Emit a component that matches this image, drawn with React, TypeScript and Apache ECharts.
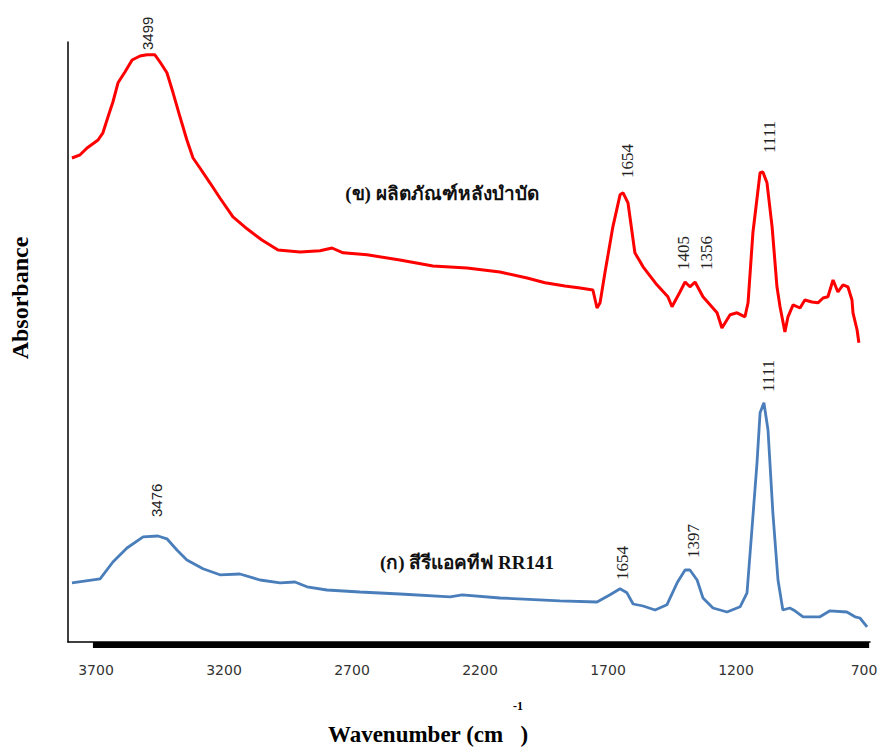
import React, { useEffect, useRef } from "react";
import * as echarts from "echarts";

// (ข) treated product – red spectrum
const redWavenumber = [3794, 3762, 3735, 3692, 3673, 3653, 3634, 3614, 3587, 3559, 3528, 3501, 3470, 3450, 3423, 3399, 3372, 3345, 3321, 3294, 3255, 3216, 3165, 3110, 3052, 2989, 2903, 2825, 2778, 2735, 2641, 2513, 2384, 2251, 2122, 2016, 1946, 1868, 1809, 1759, 1743, 1731, 1712, 1681, 1653, 1641, 1622, 1595, 1563, 1509, 1466, 1450, 1419, 1399, 1380, 1360, 1329, 1274, 1255, 1223, 1196, 1165, 1153, 1134, 1106, 1095, 1079, 1059, 1040, 1028, 1009, 997, 977, 950, 931, 903, 880, 860, 841, 821, 802, 782, 763, 747, 743, 727, 720];
const redAbsorbance = [1.21, 1.218, 1.235, 1.255, 1.273, 1.313, 1.35, 1.398, 1.425, 1.455, 1.465, 1.468, 1.468, 1.45, 1.423, 1.373, 1.313, 1.255, 1.21, 1.185, 1.148, 1.11, 1.063, 1.033, 1.005, 0.98, 0.975, 0.978, 0.985, 0.973, 0.968, 0.955, 0.94, 0.935, 0.925, 0.91, 0.898, 0.89, 0.885, 0.88, 0.835, 0.848, 0.923, 1.038, 1.118, 1.123, 1.098, 0.973, 0.938, 0.893, 0.863, 0.838, 0.875, 0.9, 0.888, 0.9, 0.863, 0.823, 0.785, 0.818, 0.823, 0.813, 0.848, 1.023, 1.173, 1.175, 1.148, 1.038, 0.888, 0.838, 0.775, 0.813, 0.843, 0.835, 0.855, 0.85, 0.848, 0.86, 0.863, 0.905, 0.875, 0.893, 0.888, 0.855, 0.823, 0.78, 0.748];

// (ก) reactive dye RR141 – blue spectrum
const blueWavenumber = [3794, 3684, 3634, 3579, 3516, 3458, 3423, 3384, 3345, 3282, 3216, 3138, 3059, 2981, 2923, 2876, 2798, 2669, 2513, 2317, 2270, 2122, 1888, 1743, 1692, 1653, 1626, 1602, 1563, 1516, 1470, 1430, 1399, 1380, 1352, 1329, 1290, 1235, 1184, 1157, 1138, 1118, 1106, 1091, 1075, 1056, 1036, 1017, 990, 970, 938, 872, 833, 767, 735, 716, 688];
const blueAbsorbance = [0.148, 0.158, 0.2, 0.235, 0.263, 0.265, 0.258, 0.23, 0.205, 0.183, 0.168, 0.17, 0.155, 0.148, 0.15, 0.138, 0.13, 0.125, 0.12, 0.113, 0.118, 0.11, 0.103, 0.1, 0.118, 0.133, 0.123, 0.095, 0.09, 0.08, 0.093, 0.148, 0.18, 0.18, 0.155, 0.11, 0.085, 0.075, 0.088, 0.123, 0.28, 0.448, 0.573, 0.598, 0.53, 0.323, 0.155, 0.08, 0.085, 0.078, 0.063, 0.063, 0.078, 0.075, 0.063, 0.06, 0.038];

const xTickLabels = [3700, 3200, 2700, 2200, 1700, 1200, 700];

// peak annotations: text, wavenumber of label, absorbance where label starts
const peakText = ["3499", "1654", "1405", "1356", "1111", "3476", "1654", "1397", "1111"];
const peakWavenumber = [3497, 1624, 1407, 1317, 1071, 3462, 1645, 1368, 1075];
const peakAbsorbance = [1.48, 1.16, 0.93, 0.93, 1.2225, 0.3125, 0.155, 0.21, 0.625];
const peakSans = [true, false, false, false, false, true, false, false, false];

const redName = "(ข) ผลิตภัณฑ์หลังบำบัด";
const blueName = "(ก) สีรีแอคทีฟ RR141";

const SERIF = "'Liberation Serif', 'Times New Roman', 'DejaVu Serif', serif";
const SANS = "'Liberation Sans', Arial, 'DejaVu Sans', sans-serif";

export default function App() {
  const ref = useRef<HTMLDivElement>(null);
  useEffect(() => {
    if (!ref.current) return;
    const chart = echarts.init(ref.current, undefined, { renderer: "svg" });
    const redData = redWavenumber.map((w, i) => [w, redAbsorbance[i]]);
    const blueData = blueWavenumber.map((w, i) => [w, blueAbsorbance[i]]);
    const option: any = {
      animation: false,
      backgroundColor: "#ffffff",
      grid: { left: 68, right: 13, top: 42, bottom: 106, containLabel: false },
      xAxis: {
        type: "value",
        min: 676.6,
        max: 3809.4,
        inverse: true,
        axisLine: { show: true, lineStyle: { color: "#000", width: 1.5 } },
        axisTick: { show: false },
        splitLine: { show: false },
        axisLabel: {
          customValues: xTickLabels,
          formatter: (v: number) => String(v),
          margin: 21,
          color: "#333",
          fontFamily: "'DejaVu Sans', sans-serif",
          fontSize: 14,
        },
      },
      yAxis: {
        type: "value",
        min: 0,
        max: 1.5,
        axisLine: { show: true, lineStyle: { color: "#000", width: 1.5 } },
        axisTick: { show: false },
        axisLabel: { show: false },
        splitLine: { show: false },
      },
      series: [
        {
          type: "line",
          name: redName,
          data: redData,
          showSymbol: false,
          symbol: "none",
          lineStyle: { color: "#ff0000", width: 3 },
          clip: false,
        },
        {
          type: "line",
          name: blueName,
          data: blueData,
          showSymbol: false,
          symbol: "none",
          lineStyle: { color: "#4a7ebb", width: 2.8 },
          clip: false,
        },
      ],
    };
    chart.setOption(option);

    const toPx = (w: number, a: number) => chart.convertToPixel({ gridIndex: 0 }, [w, a]) as number[];
    const graphics: any[] = [];
    const barStart = toPx(3712, 0);
    const barEnd = toPx(680, 0);
    graphics.push({
      type: "rect",
      shape: { x: barStart[0], y: barStart[1], width: barEnd[0] - barStart[0], height: 6 },
      style: { fill: "#000" },
    });
    peakText.forEach((t, i) => {
      const p = toPx(peakWavenumber[i], peakAbsorbance[i]);
      graphics.push({
        type: "text",
        x: p[0],
        y: p[1],
        rotation: Math.PI / 2,
        style: {
          text: t,
          fontFamily: peakSans[i] ? SANS : SERIF,
          fontSize: peakSans[i] ? 15 : 17,
          fill: "#222",
          align: "left",
          verticalAlign: "middle",
        },
      });
    });
    graphics.push(
      {
        type: "text",
        x: 442,
        y: 193,
        style: { text: redName, fontFamily: SERIF, fontWeight: "bold", fontSize: 19, fill: "#111", align: "center", verticalAlign: "middle" },
      },
      {
        type: "text",
        x: 467,
        y: 562,
        style: { text: blueName, fontFamily: SERIF, fontWeight: "bold", fontSize: 19, fill: "#111", align: "center", verticalAlign: "middle" },
      },
      {
        type: "text",
        x: 20,
        y: 298,
        rotation: Math.PI / 2,
        style: { text: "Absorbance", fontFamily: SERIF, fontWeight: "bold", fontSize: 24, fill: "#000", align: "center", verticalAlign: "middle" },
      },
      {
        type: "text",
        x: 428,
        y: 734,
        style: { text: "Wavenumber (cm   )", fontFamily: SERIF, fontWeight: "bold", fontSize: 23, fill: "#000", align: "center", verticalAlign: "middle" },
      },
      {
        type: "text",
        x: 518,
        y: 706,
        style: { text: "-1", fontFamily: SERIF, fontWeight: "bold", fontSize: 12, fill: "#000", align: "center", verticalAlign: "middle" },
      }
    );
    chart.setOption({ graphic: graphics });
    return () => chart.dispose();
  }, []);
  return (
    <div
      ref={ref}
      style={{ position: "fixed", left: 0, top: 0, width: 883, height: 748, background: "#fff" }}
    />
  );
}
